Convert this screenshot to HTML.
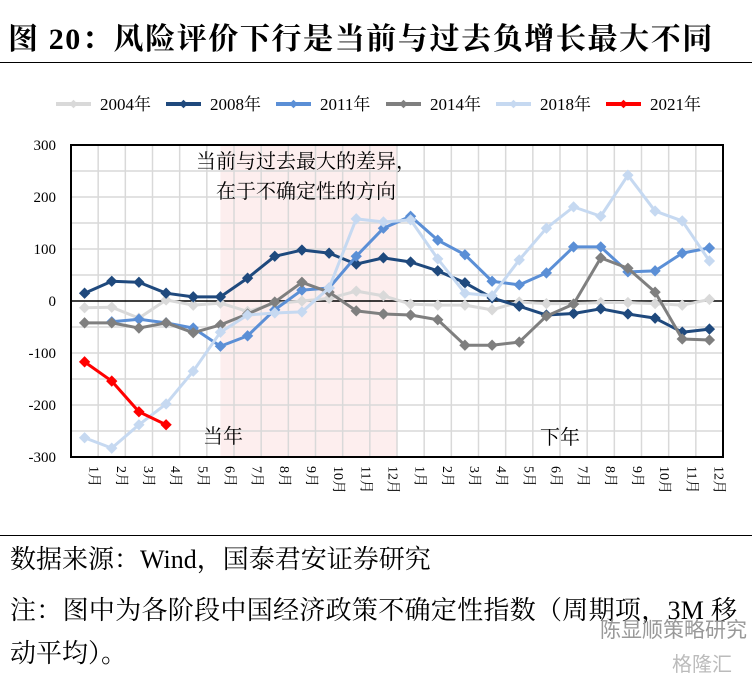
<!DOCTYPE html>
<html><head><meta charset="utf-8">
<style>
body{margin:0;width:752px;height:678px;background:#fff;overflow:hidden;font-family:"Liberation Serif","Noto Serif CJK SC",serif;}
#title{position:absolute;left:8px;top:14px;font-size:30px;letter-spacing:1.6px;font-weight:bold;color:#000;font-family:"Liberation Serif","Noto Serif CJK SC",serif;white-space:nowrap;}
.hr{position:absolute;left:0;width:752px;height:1px;background:#000;}
.foot{position:absolute;left:10px;font-size:26px;color:#000;white-space:nowrap;font-family:"Liberation Serif","Noto Serif CJK SC",serif;}
</style></head><body>
<div id="title">图 20：风险评价下行是当前与过去负增长最大不同</div>
<div class="hr" style="top:62px"></div>
<svg id="chart" width="752" height="535" style="position:absolute;left:0;top:0"></svg>
<div class="hr" style="top:535px"></div>
<div class="foot" style="top:539px">数据来源：Wind，国泰君安证券研究</div>
<div class="foot" style="top:590px;letter-spacing:0.3px">注：图中为各阶段中国经济政策不确定性指数（周期项，3M 移</div>
<div class="foot" style="top:633px">动平均）。</div>
<div style="position:absolute;left:600px;top:614px;font-size:21px;color:#999;font-family:'Noto Sans CJK SC',sans-serif">陈显顺策略研究</div>
<div style="position:absolute;left:672px;top:648px;font-size:20px;color:#bbb;font-family:'Noto Sans CJK SC',sans-serif">格隆汇</div>
<script>
const months=["1月","2月","3月","4月","5月","6月","7月","8月","9月","10月","11月","12月","1月","2月","3月","4月","5月","6月","7月","8月","9月","10月","11月","12月"];
const yTicks=[300,200,100,0,-100,-200,-300];
const seriesNames=["2004年","2008年","2011年","2014年","2018年","2021年"];
const seriesColors=["#d9d9d9","#1f497d","#5b8fd6","#7f7f7f","#c6d9f1","#ff0000"];
const s2004=[-13,-12,-33,2,-8,-4,-20,-5,0,5,19,10,-6,-8,-8,-17,-2,-5,-5,-3,-3,-5,-8,3];
const s2008=[15,38,36,15,8,8,44,86,98,92,71,83,75,58,35,6,-10,-27,-24,-15,-25,-33,-60,-54];
const s2011=[null,-40,-35,-42,-52,-87,-67,-17,21,25,86,140,163,117,89,38,31,54,104,104,56,58,92,102];
const s2014=[-42,-42,-52,-42,-61,-46,-25,-2,36,17,-19,-25,-27,-36,-85,-85,-79,-29,-6,83,63,17,-73,-75];
const s2018=[-263,-283,-238,-198,-135,-60,-27,-23,-21,25,158,152,156,81,15,10,79,140,181,163,242,173,154,77];
const s2021=[-117,-154,-213,-238];
const allSeries=[s2004,s2008,s2011,s2014,s2018,s2021];

const NS="http://www.w3.org/2000/svg";
const svg=document.getElementById('chart');
const L=71,R=723,T=145,B=457;
const cw=(R-L)/months.length;
const x=i=>L+(i+0.5)*cw;
const y=v=>T+(300-v)/600*(B-T);
function mk(tag,attrs,parent){const e=document.createElementNS(NS,tag);for(const k in attrs)e.setAttribute(k,attrs[k]);(parent||svg).appendChild(e);return e;}
const sh=mk('rect',{x:x(5),y:T,width:(L+12*cw)-x(5),height:B-T,fill:'#fdeeee'});


for(let i=1;i<months.length;i++){const g=mk('line',{x1:L+i*cw,x2:L+i*cw,y1:T,y2:B,stroke:'#d9d9d9','stroke-width':1.5});

}
for(let v=-250;v<300;v+=50){const g=mk('line',{x1:L,x2:R,y1:y(v),y2:y(v),stroke:v===0?'#000':'#d9d9d9','stroke-width':1.5});

}
yTicks.forEach(v=>{const t=mk('text',{x:56,y:y(v)+5,'text-anchor':'end','font-size':15,fill:'#000','font-family':'"Liberation Serif",serif'});t.textContent=v;

});
months.forEach((m,i)=>{const t=mk('text',{transform:`translate(${x(i)+5},466) rotate(90)`,'font-size':14,fill:'#000','font-family':'"Liberation Serif","Noto Serif CJK SC",serif'});t.textContent=m;

});
function path(d){let s='';d.forEach((v,i)=>{if(v==null)return;s+=(s?'L':'M')+x(i)+','+y(v);});return s;}
allSeries.forEach((d,k)=>{
 const g=mk('g',{});
 
 
 mk('path',{d:path(d),fill:'none',stroke:seriesColors[k],'stroke-width':3,'stroke-linejoin':'round'},g);
 d.forEach((v,i)=>{if(v==null)return;const p=mk('rect',{x:x(i)-4,y:y(v)-4,width:8,height:8,fill:seriesColors[k],transform:`rotate(45 ${x(i)} ${y(v)})`},g);
 
 });
});
const fr=mk('rect',{x:L,y:T,width:R-L,height:B-T,fill:'none',stroke:'#000','stroke-width':2});


[["当前与过去最大的差异，",196,168],["在于不确定性的方向",216,198],["当年",203,443],["下年",540,444]].forEach(a=>{
 const t=mk('text',{x:a[1],y:a[2],'font-size':20,fill:'#000','font-family':'"Noto Serif CJK SC",serif'});t.textContent=a[0];
 
 });
seriesNames.forEach((n,k)=>{
 const g=mk('g',{});
 
 
 const bx=56+k*110;
 mk('line',{x1:bx,x2:bx+35,y1:104,y2:104,stroke:seriesColors[k],'stroke-width':4},g);
 mk('rect',{x:bx+14.5,y:101,width:6,height:6,fill:seriesColors[k],transform:`rotate(45 ${bx+17.5} 104)`},g);
 const t=mk('text',{x:bx+44,y:110,'font-size':17,fill:'#000','font-family':'"Liberation Serif","Noto Serif CJK SC",serif'},g);t.textContent=n;
});
</script>
</body></html>
